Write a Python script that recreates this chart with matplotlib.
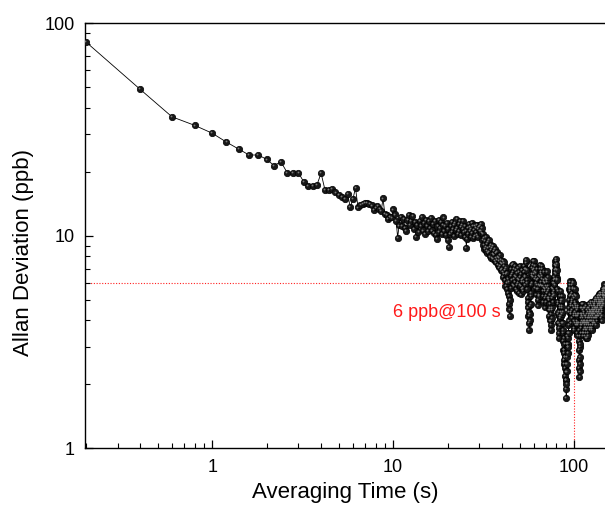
import numpy as np
import matplotlib
matplotlib.use("Agg")
import matplotlib.pyplot as plt
from matplotlib.ticker import LogLocator, NullFormatter, FixedLocator, FixedFormatter
import matplotlib.transforms as mtransforms

plt.rcParams['font.family'] = ['Liberation Sans', 'DejaVu Sans']

# averaging-time step (s); tau_k = k * tau_step
tau_step = 0.2

# Allan deviation values (ppb), one per averaging time step
adev_0_10 = [
    81.9, 48.9, 36.3, 33.1, 30.4, 27.6, 25.6, 24.0, 24.0, 22.9,
    21.4, 22.3, 19.8, 19.8, 19.8,
    18.0, 17.2, 17.2, 17.4, 19.7, 16.5, 16.5, 16.6, 16.0, 15.6,
    15.3, 14.9, 15.7, 13.7, 14.9, 16.8, 13.6, 14.0, 14.1, 14.3,
    14.3, 14.1, 13.9, 13.2, 13.6, 13.8, 13.4, 13.1, 15.0, 12.7,
    12.5, 12.0, 12.3, 12.2, 13.3,
]
adev_10_20 = [
    12.6, 11.8, 9.8, 11.2, 12.3, 11.1, 12.0, 10.9, 10.5, 11.9,
    12.5, 11.3, 11.7, 12.4, 10.8, 11.6, 9.9, 11.3, 10.4, 11.8,
    11.2, 12.3, 10.6, 11.5, 10.2, 11.9, 11.2, 10.5, 11.7, 10.9,
    12.1, 10.6, 11.4, 10.3, 11.7, 10.1, 9.7, 11.1, 10.4, 11.9,
    10.9, 11.6, 10.2, 11.3, 12.2, 10.6, 11.2, 10.1, 11.5, 10.8,
]
adev_20_30 = [
    9.6, 8.9, 10.2, 11.2, 10.4, 11.6, 10.8, 11.3, 10.0, 11.5,
    10.7, 12.0, 10.9, 10.2, 11.4, 10.5, 11.7, 11.0, 10.1, 11.3,
    10.8, 11.8, 10.4, 11.1, 9.9, 10.6, 8.8, 9.7, 10.9, 10.2,
    11.4, 10.5, 11.0, 9.9, 10.8, 11.5, 10.3, 11.1, 9.8, 10.7,
    11.2, 10.0, 10.9, 10.4, 11.3, 10.1, 10.8, 9.9, 11.0, 10.5,
]
adev_30_40 = [
    11.2, 10.6, 11.4, 10.3, 10.9, 9.6, 10.2, 9.1, 9.8, 8.7,
    9.5, 8.9, 9.9, 8.5, 9.2, 8.3, 9.4, 8.8, 9.6, 8.4,
    8.9, 8.0, 9.1, 8.6, 7.9, 8.8, 8.2, 9.0, 7.8, 8.5,
    8.1, 7.6, 8.7, 7.9, 8.3, 7.5, 8.4, 7.7, 8.0, 7.3,
    7.9, 7.1, 7.6, 8.1, 7.2, 7.7, 6.9, 7.5, 7.0, 7.4,
]
adev_40_50 = [
    6.8, 7.6, 6.4, 7.2, 6.6, 7.5, 6.2, 6.9, 5.8, 6.6,
    7.1, 6.0, 6.7, 5.6, 6.3, 5.4, 6.1, 5.2, 4.8, 4.5,
    4.2, 5.0, 5.7, 6.5, 7.0, 6.2, 7.3, 6.6, 5.9, 6.8,
    7.4, 6.3, 7.0, 5.8, 6.5, 7.2, 6.1, 6.9, 5.6, 6.4,
    5.9, 6.7, 5.5, 6.3, 7.1, 6.0, 5.4, 6.2, 6.8, 5.9,
]
adev_50_60 = [
    7.2, 6.4, 5.8, 6.6, 5.3, 6.1, 5.6, 6.9, 6.2, 5.5,
    6.3, 5.7, 6.8, 6.1, 7.2, 6.5, 5.9, 7.0, 6.4, 7.5,
    7.0, 7.7, 6.9, 6.2, 5.6, 6.0, 5.1, 4.6, 4.9, 4.2,
    3.9, 4.4, 3.6, 4.0, 4.7, 4.3, 5.2, 4.8, 5.9, 5.4,
    6.6, 6.0, 7.1, 6.5, 7.6, 6.9, 7.3, 6.4, 7.0, 6.6,
]
adev_60_70 = [
    7.6, 6.8, 7.2, 6.3, 5.7, 6.4, 5.3, 6.0, 6.7, 5.9,
    7.0, 6.2, 5.6, 6.3, 5.0, 5.6, 4.7, 5.3, 5.9, 5.2,
    6.5, 5.8, 7.0, 6.4, 7.3, 6.6, 5.9, 6.8, 6.1, 7.2,
    6.5, 7.0, 5.8, 6.3, 5.2, 5.8, 4.9, 5.5, 6.2, 5.7,
    6.8, 6.1, 5.5, 6.0, 5.1, 5.6, 4.6, 5.2, 4.9, 5.8,
]
adev_70_80 = [
    6.3, 5.7, 6.8, 6.1, 5.4, 6.2, 5.1, 5.8, 6.4, 5.5,
    5.0, 5.6, 4.5, 5.1, 4.2, 4.8, 5.3, 4.5, 4.0, 4.6,
    3.8, 4.3, 3.6, 4.0, 4.5, 4.1, 5.1, 4.6, 5.7, 5.2,
    6.0, 5.4, 4.9, 5.6, 6.2, 5.5, 6.0, 5.3, 6.4, 5.9,
    6.9, 6.3, 7.3, 6.7, 7.6, 7.0, 7.8, 7.2, 6.6, 7.4,
]
adev_80_90 = [
    6.3, 6.9, 5.6, 6.2, 4.9, 5.5, 4.3, 4.8, 3.9, 4.4,
    3.5, 3.9, 3.3, 3.7, 4.2, 3.8, 4.6, 4.1, 5.2, 4.7,
    5.5, 4.9, 4.4, 5.0, 4.2, 4.7, 5.2, 4.6, 5.0, 4.3,
    3.9, 4.4, 3.5, 3.9, 3.2, 3.6, 2.9, 3.3, 2.6, 2.9,
    2.5, 2.8, 3.1, 2.7, 2.4, 2.7, 2.2, 2.5, 2.1, 2.3,
]
adev_90_100 = [
    1.9, 2.1, 1.73, 2.0, 2.3, 2.7, 2.5, 3.1, 3.4, 3.0,
    3.5, 3.1, 2.8, 3.3, 3.0, 3.8, 3.5, 4.4, 4.0, 5.0,
    4.6, 5.6, 6.1, 5.5, 5.9, 5.2, 5.7, 4.8, 5.3, 4.3,
    4.7, 3.9, 4.4, 4.1, 4.9, 4.5, 5.4, 5.0, 5.9, 6.1,
    5.6, 6.0, 5.2, 5.7, 4.7, 5.1, 4.2, 4.6, 3.7, 4.0,
]
adev_100_110 = [
    3.6, 4.3, 3.9, 4.8, 4.4, 5.3, 4.9, 5.6, 4.8, 5.2,
    4.3, 4.7, 3.8, 4.2, 4.6, 4.0, 4.5, 3.8, 4.2, 3.5,
    3.9, 3.4, 3.8, 4.3, 3.9, 4.7, 4.2, 4.6, 3.9, 4.3,
    3.6, 3.2, 2.9, 2.6, 2.4, 2.17, 2.3, 2.7, 2.5, 3.0,
    3.4, 3.1, 3.8, 3.5, 4.3, 3.9, 4.6, 4.1, 3.7, 4.2,
]
adev_110_120 = [
    4.6, 4.0, 4.8, 4.3, 3.8, 4.2, 3.5, 3.9, 3.4, 4.1,
    4.5, 3.9, 4.8, 4.3, 4.6, 3.9, 3.5, 4.0, 3.6, 4.4,
    4.0, 3.7, 3.4, 3.9, 4.2, 3.8, 4.6, 4.2, 4.7, 3.9,
    3.6, 4.1, 3.3, 3.7, 3.5, 4.0, 4.5, 3.9, 4.3, 3.6,
    3.3, 3.8, 3.5, 4.1, 4.6, 4.0, 4.4, 3.7, 3.4, 3.9,
]
adev_120_130 = [
    4.2, 3.8, 4.6, 4.1, 4.8, 4.3, 3.9, 4.4, 3.6, 4.0,
    3.7, 4.3, 4.7, 4.1, 4.5, 3.8, 4.2, 3.7, 4.4, 4.0,
    4.8, 4.4, 4.9, 4.3, 4.0, 4.5, 3.7, 4.1, 3.6, 4.3,
    4.7, 4.2, 4.6, 3.9, 4.3, 3.8, 4.5, 4.9, 4.4, 4.8,
    4.1, 4.5, 3.9, 4.4, 4.0, 4.7, 4.3, 4.8, 4.1, 4.6,
]
adev_130_140 = [
    5.0, 4.5, 4.9, 4.3, 4.7, 3.9, 4.4, 3.8, 4.2, 4.6,
    4.1, 5.0, 4.6, 5.1, 4.4, 4.0, 4.5, 4.1, 4.9, 4.4,
    5.0, 4.6, 4.2, 4.7, 4.3, 5.1, 4.7, 5.2, 4.6, 4.2,
    4.8, 4.4, 5.0, 4.5, 5.3, 4.8, 5.1, 4.4, 4.9, 4.2,
    4.7, 5.2, 4.8, 5.4, 4.9, 4.5, 5.0, 4.3, 4.8, 5.3,
]
adev_140_148 = [
    4.9, 5.4, 4.6, 5.1, 4.3, 4.8, 4.1, 4.6, 5.0, 4.4,
    4.9, 4.2, 4.7, 4.0, 4.5, 5.0, 4.6, 5.3, 4.8, 5.5,
    5.0, 5.4, 4.7, 5.2, 4.9, 5.6, 5.1, 5.5, 4.8, 5.3,
    5.7, 5.2, 5.6, 5.0, 5.5, 5.9, 5.4, 5.7, 5.2, 5.6,
]

adev = np.array(adev_0_10 + adev_10_20 + adev_20_30 + adev_30_40 + adev_40_50
                + adev_50_60 + adev_60_70 + adev_70_80 + adev_80_90 + adev_90_100
                + adev_100_110 + adev_110_120 + adev_120_130 + adev_130_140
                + adev_140_148)
tau = tau_step * np.arange(1, len(adev) + 1)

# reference marker
ref_tau = 100
ref_adev = 6
ref_label = "6 ppb@100 s"

x_ticks = [1, 10, 100]
x_ticklabels = ["1", "10", "100"]
y_ticks = [1, 10, 100]
y_ticklabels = ["1", "10", "100"]

W, H = 605, 509
fig = plt.figure(figsize=(W / 100, H / 100), dpi=100)
ax = fig.add_axes([84.5 / W, 1 - 448.3 / H, (W - 84.5) / W, (448.3 - 23.3) / H])
ax.set_xscale('log')
ax.set_yscale('log')
ax.set_xlim(0.197, 148.4)
ax.set_ylim(1, 100)

# red reference lines
ax.plot([ax.get_xlim()[0], ref_tau], [ref_adev, ref_adev], color='#ff2020',
        linestyle=(0, (1, 1.5)), linewidth=0.8, zorder=1)
ax.plot([ref_tau, ref_tau], [1, ref_adev], color='#ff2020',
        linestyle=(0, (1, 1.5)), linewidth=0.8, zorder=1)

# data: line + sphere-like markers
ax.plot(tau, adev, color='black', linewidth=0.6, zorder=2)
ax.plot(tau, adev, linestyle='none', marker='o', markersize=4.6,
        markerfacecolor='#181818', markeredgecolor='#000000',
        markeredgewidth=0.5, zorder=3)
hl = mtransforms.offset_copy(ax.transData, fig=fig, x=-0.6, y=0.6, units='points')
ax.plot(tau, adev, linestyle='none', marker='o', markersize=1.3,
        markerfacecolor='#7a7a7a', markeredgecolor='none', transform=hl, zorder=4)

ax.text(39.5, 4.16, ref_label, color='#ff1a1a', fontsize=13, ha='right',
        va='baseline', zorder=5)

# axes styling
for s in ['left', 'bottom', 'top']:
    ax.spines[s].set_linewidth(1.0)
ax.spines['right'].set_visible(False)

ax.xaxis.set_major_locator(FixedLocator(x_ticks))
ax.xaxis.set_major_formatter(FixedFormatter(x_ticklabels))
ax.yaxis.set_major_locator(FixedLocator(y_ticks))
ax.yaxis.set_major_formatter(FixedFormatter(y_ticklabels))
ax.xaxis.set_minor_locator(LogLocator(base=10, subs=np.arange(2, 10)))
ax.yaxis.set_minor_locator(LogLocator(base=10, subs=np.arange(2, 10)))
ax.xaxis.set_minor_formatter(NullFormatter())
ax.yaxis.set_minor_formatter(NullFormatter())

ax.tick_params(which='major', direction='in', length=6, width=0.9,
               labelsize=13, top=False, right=False, pad=7)
ax.tick_params(which='minor', direction='in', length=3.5, width=0.8,
               top=False, right=False)
ax.tick_params(axis='x', which='major', pad=8)

ax.set_xlabel("Averaging Time (s)", fontsize=16)
ax.set_ylabel("Allan Deviation (ppb)", fontsize=16)
ax.xaxis.set_label_coords(0.5, -0.08)
ax.yaxis.set_label_coords(-0.097, 0.46)

fig.savefig("out.png", dpi=100, facecolor='white')
